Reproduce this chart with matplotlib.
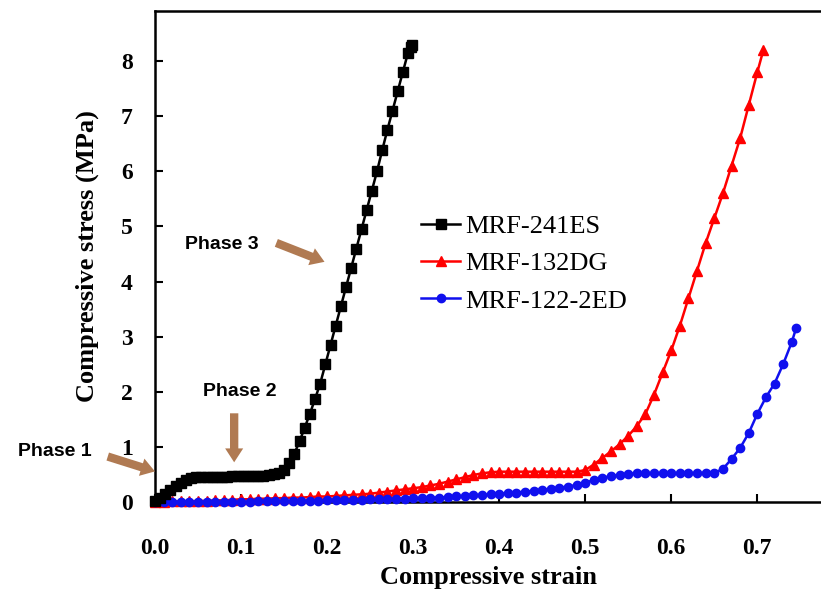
import matplotlib
matplotlib.use("Agg")
import matplotlib.pyplot as plt

# MRF-241ES (black squares)
strain_241 = [0.000, 0.006, 0.012, 0.018, 0.024, 0.030, 0.036, 0.042, 0.048, 0.054,
              0.060, 0.066, 0.072, 0.078, 0.084, 0.090, 0.096, 0.102, 0.108, 0.114,
              0.120, 0.126, 0.132, 0.138, 0.144, 0.150, 0.156, 0.162, 0.168, 0.174,
              0.180, 0.186, 0.192, 0.198, 0.204, 0.210, 0.216, 0.222, 0.228, 0.234,
              0.240, 0.246, 0.252, 0.258, 0.264, 0.270, 0.276, 0.282, 0.288, 0.294,
              0.298, 0.299]
stress_241 = [0.02, 0.08, 0.15, 0.22, 0.29, 0.35, 0.40, 0.43, 0.45, 0.46,
              0.46, 0.46, 0.46, 0.46, 0.46, 0.47, 0.47, 0.47, 0.47, 0.48,
              0.48, 0.48, 0.49, 0.50, 0.52, 0.58, 0.70, 0.88, 1.10, 1.35,
              1.60, 1.87, 2.15, 2.50, 2.85, 3.20, 3.55, 3.90, 4.25, 4.60,
              4.95, 5.30, 5.65, 6.00, 6.38, 6.75, 7.10, 7.45, 7.80, 8.15,
              8.25, 8.30]

# MRF-132DG (red triangles)
strain_132 = [0.00, 0.01, 0.02, 0.03, 0.04, 0.05, 0.06, 0.07, 0.08, 0.09,
              0.10, 0.11, 0.12, 0.13, 0.14, 0.15, 0.16, 0.17, 0.18, 0.19,
              0.20, 0.21, 0.22, 0.23, 0.24, 0.25, 0.26, 0.27, 0.28, 0.29,
              0.30, 0.31, 0.32, 0.33, 0.34, 0.35, 0.36, 0.37, 0.38, 0.39,
              0.40, 0.41, 0.42, 0.43, 0.44, 0.45, 0.46, 0.47, 0.48, 0.49,
              0.50, 0.51, 0.52, 0.53, 0.54, 0.55, 0.56, 0.57, 0.58, 0.59,
              0.60, 0.61, 0.62, 0.63, 0.64, 0.65, 0.66, 0.67, 0.68, 0.69,
              0.70, 0.707]
stress_132 = [0.00, 0.00, 0.01, 0.01, 0.01, 0.02, 0.02, 0.03, 0.03, 0.04,
              0.05, 0.05, 0.06, 0.06, 0.07, 0.07, 0.08, 0.08, 0.09, 0.10,
              0.10, 0.11, 0.12, 0.13, 0.14, 0.15, 0.17, 0.19, 0.21, 0.23,
              0.25, 0.27, 0.30, 0.33, 0.37, 0.41, 0.45, 0.49, 0.52, 0.54,
              0.55, 0.55, 0.55, 0.55, 0.55, 0.55, 0.55, 0.55, 0.55, 0.55,
              0.58, 0.68, 0.80, 0.92, 1.05, 1.20, 1.38, 1.60, 1.95, 2.35,
              2.75, 3.20, 3.70, 4.20, 4.70, 5.15, 5.60, 6.10, 6.60, 7.20,
              7.80, 8.20]

# MRF-122-2ED (blue circles)
strain_122 = [0.00, 0.01, 0.02, 0.03, 0.04, 0.05, 0.06, 0.07, 0.08, 0.09,
              0.10, 0.11, 0.12, 0.13, 0.14, 0.15, 0.16, 0.17, 0.18, 0.19,
              0.20, 0.21, 0.22, 0.23, 0.24, 0.25, 0.26, 0.27, 0.28, 0.29,
              0.30, 0.31, 0.32, 0.33, 0.34, 0.35, 0.36, 0.37, 0.38, 0.39,
              0.40, 0.41, 0.42, 0.43, 0.44, 0.45, 0.46, 0.47, 0.48, 0.49,
              0.50, 0.51, 0.52, 0.53, 0.54, 0.55, 0.56, 0.57, 0.58, 0.59,
              0.60, 0.61, 0.62, 0.63, 0.64, 0.65, 0.66, 0.67, 0.68, 0.69,
              0.70, 0.71, 0.72, 0.73, 0.74, 0.745]
stress_122 = [0.00, 0.00, 0.00, 0.00, 0.00, 0.00, 0.00, 0.00, 0.00, 0.00,
              0.00, 0.00, 0.01, 0.01, 0.01, 0.01, 0.01, 0.02, 0.02, 0.02,
              0.03, 0.03, 0.03, 0.04, 0.04, 0.05, 0.05, 0.05, 0.06, 0.06,
              0.07, 0.07, 0.08, 0.08, 0.09, 0.10, 0.11, 0.12, 0.13, 0.14,
              0.15, 0.16, 0.17, 0.19, 0.20, 0.22, 0.24, 0.26, 0.28, 0.31,
              0.35, 0.40, 0.44, 0.47, 0.49, 0.51, 0.52, 0.52, 0.52, 0.52,
              0.52, 0.52, 0.52, 0.52, 0.53, 0.53, 0.60, 0.78, 0.98, 1.25,
              1.60, 1.90, 2.15, 2.50, 2.90, 3.15]

labels = ["MRF-241ES", "MRF-132DG", "MRF-122-2ED"]
xticks = [0.0, 0.1, 0.2, 0.3, 0.4, 0.5, 0.6, 0.7]
yticks = [0, 1, 2, 3, 4, 5, 6, 7, 8]

serif = "Liberation Serif"
brown = "#b07a52"

fig = plt.figure(figsize=(8.21, 5.94), dpi=100)
ax = fig.add_axes([155 / 821, 1 - 502 / 594, 1 - 155 / 821, (502 - 11) / 594])

ax.plot(strain_241, stress_241, color="black", marker="s", ms=6.5, lw=1.8,
        label=labels[0], clip_on=False, zorder=4)
ax.plot(strain_132, stress_132, color="#ff0000", marker="^", ms=6.5, lw=1.8,
        label=labels[1], clip_on=False, zorder=3)
ax.plot(strain_122, stress_122, color="#1010ee", marker="o", ms=6, lw=1.8,
        label=labels[2], clip_on=False, zorder=3)

ax.set_xlim(0, 0.774)
ax.set_ylim(0, 8.91)
ax.set_xticks(xticks)
ax.set_xticklabels(["%.1f" % v for v in xticks])
ax.set_yticks(yticks)
ax.set_yticklabels([str(v) for v in yticks])
ax.tick_params(direction="in", length=6, width=1.5)
ax.tick_params(axis="x", pad=26)
ax.tick_params(axis="y", pad=16)
for lab in ax.get_xticklabels() + ax.get_yticklabels():
    lab.set_fontfamily(serif)
    lab.set_fontweight("bold")
    lab.set_fontsize(17)

ax.spines["right"].set_visible(False)
for s in ["top", "left", "bottom"]:
    ax.spines[s].set_linewidth(1.8)

ax.set_xlabel("Compressive strain", fontfamily=serif, fontweight="bold",
              fontsize=19, labelpad=5)
ax.set_ylabel("Compressive stress (MPa)", fontfamily=serif, fontweight="bold",
              fontsize=19, labelpad=16)

ax.legend(loc="upper left", bbox_to_anchor=(397 / 821, 1 - 191 / 594),
          bbox_transform=fig.transFigure, frameon=False,
          prop={"family": serif, "size": 19}, handlelength=1.5,
          handletextpad=0.2, labelspacing=0.52)

# phase annotations
arrow = dict(arrowstyle="simple,head_width=1.3,head_length=1.0,tail_width=0.6",
             color=brown, lw=0)
phase_font = dict(family="Liberation Sans", fontsize=14, fontweight="bold",
                  ha="center", va="center")
ax.annotate("", xy=(0.003, 0.54), xytext=(-0.058, 0.84), arrowprops=arrow,
            annotation_clip=False)
ax.text(-0.117, 0.91, "Phase 1", clip_on=False, **phase_font)
ax.annotate("", xy=(0.092, 0.67), xytext=(0.092, 1.66), arrowprops=arrow,
            annotation_clip=False)
ax.text(0.099, 2.0, "Phase 2", **phase_font)
ax.annotate("", xy=(0.2, 4.34), xytext=(0.138, 4.72), arrowprops=arrow,
            annotation_clip=False)
ax.text(0.078, 4.68, "Phase 3", **phase_font)

fig.savefig("out.png", dpi=100)
